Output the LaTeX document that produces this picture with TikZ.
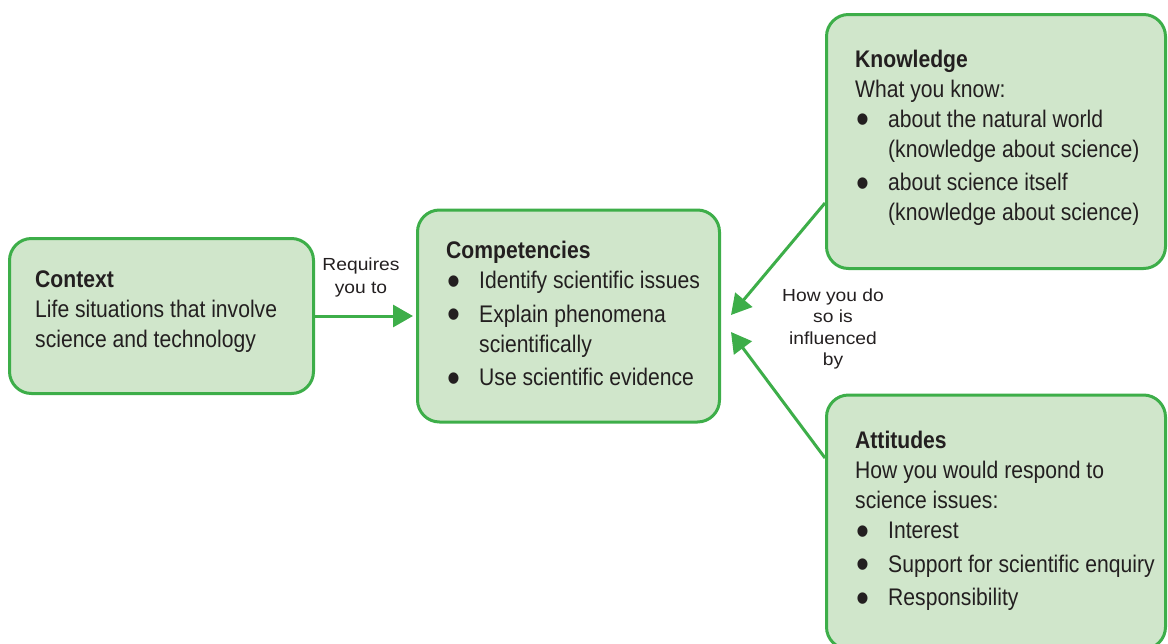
\documentclass[tikz,border=0pt]{standalone}
\usepackage{fontspec}
\usepackage{graphicx}
\setmainfont{Liberation Sans}
\newfontfamily\condfont[FakeStretch=0.88]{Liberation Sans}
\newfontfamily\lblfont[FakeStretch=1.1]{Liberation Sans}
\usetikzlibrary{arrows.meta}
\definecolor{gfill}{HTML}{D0E6CB}
\definecolor{gline}{HTML}{3DAE49}
\definecolor{ink}{HTML}{231F20}
\newcommand{\bul}{\hspace*{1pt}\makebox[32pt][l]{\smash{\raisebox{-6.5pt}{\scalebox{1.75}{\textbullet}}}}}
\newcommand{\ind}{\hspace*{33pt}}
\tikzset{
  box/.style={draw=gline, fill=gfill, line width=3pt, rounded corners=22pt, inner sep=0pt},
  txt/.style={inner sep=0pt, anchor=base west, text=ink, font=\condfont\fontsize{24}{30}\selectfont},
  lbl/.style={inner sep=0pt, anchor=base, text=ink},
  arr/.style={draw=gline, line width=3pt, -{Triangle[length=20pt,width=22pt]}}
}
\begin{document}
\begin{tikzpicture}[x=1pt,y=-1pt]
\clip (0,0) rectangle (1168,643);
\node[box, minimum width=304pt, minimum height=155pt] (ctx) at (161.5,316) {};
\node[box, minimum width=302pt, minimum height=212pt] (comp) at (568.5,316) {};
\node[box, minimum width=339pt, minimum height=254pt] (know) at (996,141.5) {};
\node[box, minimum width=339pt, minimum height=254pt] (att) at (996,522) {};

\node[txt] (ctxt) at ([shift={(27,50)}]ctx.north west) {\parbox[t]{300pt}{\raggedright
  \textbf{Context}\\
  Life situations that involve\\
  science and technology}};
\node[txt] (compt) at ([shift={(30,50)}]comp.north west) {\parbox[t]{300pt}{\raggedright
  \textbf{Competencies}\\
  \bul Identify scientific issues\\[3.5pt]
  \bul Explain phenomena\\
  \ind scientifically\\[3.5pt]
  \bul Use scientific evidence}};
\node[txt] (knowt) at ([shift={(30,54)}]know.north west) {\parbox[t]{320pt}{\raggedright
  \textbf{Knowledge}\\
  What you know:\\
  \bul about the natural world\\
  \ind (knowledge about science)\\[3.5pt]
  \bul about science itself\\
  \ind (knowledge about science)}};
\node[txt] (attt) at ([shift={(30,55)}]att.north west) {\parbox[t]{320pt}{\raggedright
  \textbf{Attitudes}\\
  How you would respond to\\
  science issues:\\
  \bul Interest\\[3.5pt]
  \bul Support for scientific enquiry\\[3.5pt]
  \bul Responsibility}};

\node[lbl, font=\lblfont\fontsize{17.5}{23.5}\selectfont] (req) at (361,270) {\parbox[t]{120pt}{\centering Requires\\you to}};
\node[lbl, font=\lblfont\fontsize{17.5}{21.5}\selectfont] (how) at (833,301) {\parbox[t]{140pt}{\centering How you do\\so is\\influenced\\by}};

\coordinate (kt) at (731,315);
\coordinate (at) at (731,332);
\draw[arr] (ctx.east) -- ([xshift=-3pt]comp.west);
\draw[arr] ([yshift=-61.5pt]know.west) -- (kt);
\draw[arr] ([yshift=64pt]att.west) -- (at);
\end{tikzpicture}
\end{document}
